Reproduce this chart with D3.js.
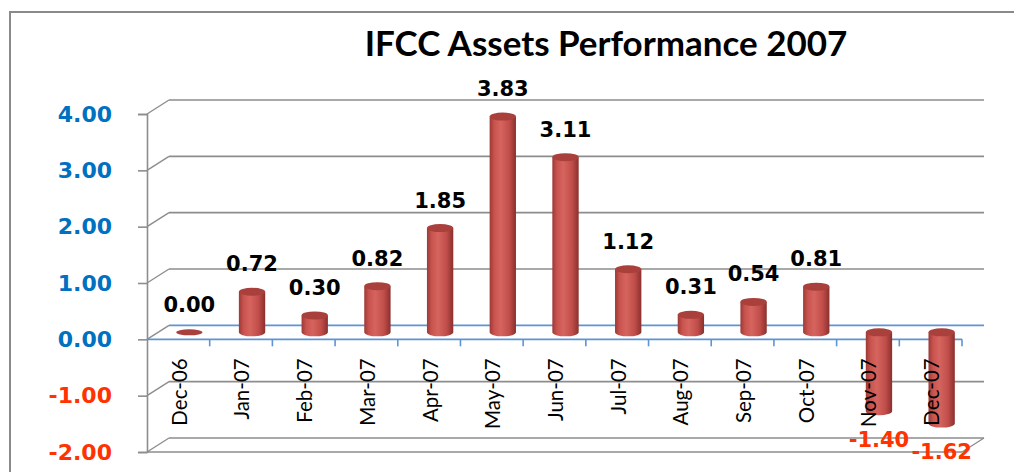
<!DOCTYPE html>
<html>
<head>
<meta charset="utf-8">
<script src="https://cdn.jsdelivr.net/npm/d3@7"></script>
<style>
  body { margin: 0; background: #fff; }
  svg { display: block; }
</style>
</head>
<body>
<svg id="chart" width="1014" height="472"></svg>
<script>
// data
const months = ["Dec-06", "Jan-07", "Feb-07", "Mar-07", "Apr-07", "May-07", "Jun-07",
                "Jul-07", "Aug-07", "Sep-07", "Oct-07", "Nov-07", "Dec-07"];
const perf = [0.00, 0.72, 0.30, 0.82, 1.85, 3.83, 3.11, 1.12, 0.31, 0.54, 0.81, -1.40, -1.62];
const yTicks = [-2, -1, 0, 1, 2, 3, 4];
const titleText = "IFCC Assets Performance 2007";

function drawChart(){

  const svg = d3.select('#chart');

  // front plane of the 3d box and the depth offset to the back wall
  const left = 147, right = 962, top = 114, bottom = 452;
  const depthX = 22, depthY = -14;

  const gridCol = '#8d8d8d';
  const axisBlue = '#5f93d3';
  const labelBlue = '#0070c0';
  const labelRed = '#ff3300';

  // plain hyphen for negatives, like the original
  const fmt = v => d3.format('.2f')(v).replace('\u2212', '-');

  const x = d3.scaleBand().domain(months).range([left, right]).padding(0);
  const y = d3.scaleLinear().domain([d3.min(yTicks), d3.max(yTicks)]).range([bottom, top]);

  // outer chart border
  svg.append('rect')
    .attr('x', 10).attr('y', 12)
    .attr('width', 1014).attr('height', 480)
    .style('fill', 'none')
    .style('stroke', '#8a8a8a')
    .style('stroke-width', 2);

  // title, sized to fill the same width as the original
  const title = svg.append('text')
    .attr('x', 606).attr('y', 56)
    .attr('text-anchor', 'middle')
    .style('font-family', 'Lato, "Open Sans", sans-serif')
    .style('font-weight', 'bold')
    .style('font-size', '32px')
    .style('fill', '#000')
    .text(titleText);
  const tw = title.node().getComputedTextLength();
  title.style('font-size', (32 * 483 / tw) + 'px');

  const wallGrp = svg.append('g').attr('class', 'walls');

  // back wall gridlines + side wall diagonals
  yTicks.forEach(t => {
    const yy = y(t);
    wallGrp.append('line')
      .attr('x1', left + depthX).attr('x2', right + depthX)
      .attr('y1', yy + depthY).attr('y2', yy + depthY)
      .style('stroke', t === 0 ? axisBlue : gridCol)
      .style('stroke-width', 1.6);
    wallGrp.append('line')
      .attr('x1', left).attr('x2', left + depthX)
      .attr('y1', yy).attr('y2', yy + depthY)
      .style('stroke', gridCol)
      .style('stroke-width', 1.4);
  });

  // floor: front edge and right edge
  wallGrp.append('line')
    .attr('x1', left).attr('x2', right)
    .attr('y1', bottom).attr('y2', bottom)
    .style('stroke', gridCol).style('stroke-width', 1.6);
  wallGrp.append('line')
    .attr('x1', right).attr('x2', right + depthX)
    .attr('y1', bottom).attr('y2', bottom + depthY)
    .style('stroke', gridCol).style('stroke-width', 1.4);

  // value axis
  const yAxis = d3.axisLeft(y)
    .tickValues(yTicks)
    .tickFormat(fmt)
    .tickSize(9)
    .tickPadding(26);

  const yAxisG = svg.append('g')
    .attr('transform', `translate(${left},0)`)
    .call(yAxis);
  yAxisG.select('.domain').style('stroke', gridCol).style('stroke-width', 1.6);
  yAxisG.selectAll('.tick line').style('stroke', gridCol).style('stroke-width', 1.6);
  yAxisG.selectAll('.tick text')
    .style('font-family', '"DejaVu Sans", Verdana, sans-serif')
    .style('font-weight', 'bold')
    .style('font-size', '22px')
    .style('fill', d => d < 0 ? labelRed : labelBlue);

  // category axis at zero on the front plane
  const zeroY = y(0);
  svg.append('line')
    .attr('x1', left).attr('x2', right)
    .attr('y1', zeroY).attr('y2', zeroY)
    .style('stroke', axisBlue).style('stroke-width', 1.6);
  svg.selectAll('line.catTick')
    .data(months)
    .enter()
    .append('line')
    .attr('class', 'catTick')
    .attr('x1', d => x(d) + x.bandwidth()).attr('x2', d => x(d) + x.bandwidth())
    .attr('y1', zeroY).attr('y2', zeroY + 7)
    .style('stroke', axisBlue).style('stroke-width', 1.6);

  // cylinder shading
  const defs = svg.append('defs');
  const grad = defs.append('linearGradient')
    .attr('id', 'cyl')
    .attr('x1', '0%').attr('x2', '100%').attr('y1', '0%').attr('y2', '0%');
  [[0, '#9c3936'], [0.18, '#c9544f'], [0.42, '#d6645e'], [0.75, '#c04d49'], [1, '#8a302d']]
    .forEach(s => grad.append('stop').attr('offset', s[0]).attr('stop-color', s[1]));

  const rx = x.bandwidth() * 0.21;
  const ry = 4;
  const cx = d => x(d) + x.bandwidth() / 2 + depthX / 2;
  const barData = months.map((m, i) => ({month: m, value: perf[i]}));

  const barGrp = svg.append('g').attr('class', 'bars');

  barData.forEach(d => {
    const c = cx(d.month);
    const yTop = y(Math.max(d.value, 0)) + depthY / 2;
    const yBot = y(Math.min(d.value, 0)) + depthY / 2;
    if (yBot - yTop > 0.5){
      barGrp.append('path')
        .attr('d', `M${c - rx},${yTop} L${c - rx},${yBot} A${rx},${ry} 0 0 0 ${c + rx},${yBot} L${c + rx},${yTop} Z`)
        .style('fill', 'url(#cyl)');
    }
    barGrp.append('ellipse')
      .attr('cx', c).attr('cy', yTop)
      .attr('rx', rx).attr('ry', yBot - yTop > 0.5 ? ry : 3)
      .style('fill', '#aa403c');
  });

  // month labels, drawn over the bars
  svg.selectAll('text.month')
    .data(months)
    .enter()
    .append('text')
    .attr('class', 'month')
    .attr('transform', d => `translate(${x(d) + x.bandwidth() / 2 + 1},${zeroY + 19}) rotate(-90)`)
    .attr('text-anchor', 'end')
    .attr('dy', '0.36em')
    .style('font-family', 'Lato, "Liberation Sans", sans-serif')
    .style('font-size', '20.5px')
    .style('fill', '#000')
    .text(d => d);

  // value labels
  svg.selectAll('text.valLabel')
    .data(barData)
    .enter()
    .append('text')
    .attr('class', 'valLabel')
    .attr('x', d => cx(d.month))
    .attr('y', d => d.value < 0
      ? y(d.value) + depthY / 2 + 28
      : y(d.value) + depthY / 2 - 28)
    .attr('dy', '0.36em')
    .attr('text-anchor', 'middle')
    .style('font-family', '"DejaVu Sans", Verdana, sans-serif')
    .style('font-weight', 'bold')
    .style('font-size', '21px')
    .style('fill', d => d.value < 0 ? labelRed : '#000')
    .text(d => fmt(d.value));
}

drawChart();
</script>
</body>
</html>
